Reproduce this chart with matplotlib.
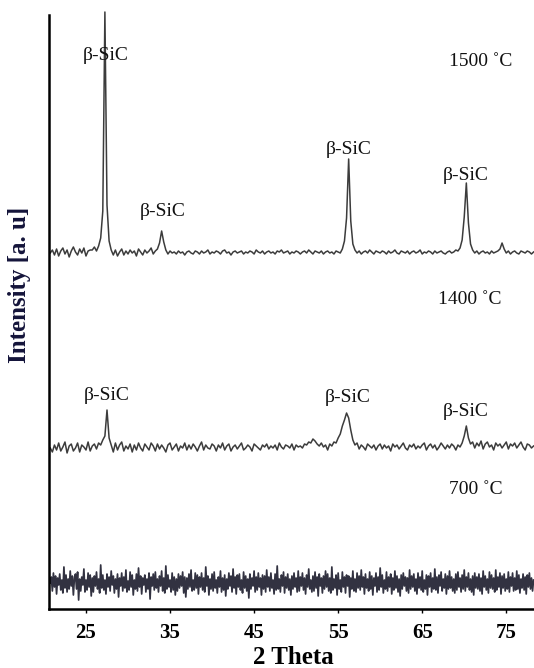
import numpy as np
import matplotlib
matplotlib.use("Agg")
import matplotlib.pyplot as plt

# 2-theta sampling grids (degrees)
two_theta = np.arange(20.75, 78.26, 0.25)
two_theta_fine = np.arange(20.75, 78.26, 0.125)

# intensities relative to each trace's baseline (a.u.)
i_1500 = [
    0, 3, -2, 4, -3, 2, 5, -1, 3, -4, 2, 6, 1, -2, 4, 0, 5, -3, 2, 3,
    3, 6, 2, 7, 15, 42, 241, 48, 12, 3, -2, 3, -3, 1, 4, -2, 2, -1, 3, 0,
    2, -3, 4, 1, -2, 3, 0, 2, 5, -1, 2, 4, 10, 22, 11, 3, -1, 2, 0, 1,
    -1, 2, 0, 1, -2, 1, 2, 0, -1, 2, 1, -1, 2, 0, 1, 3, -1, 1, 0, 2,
    1, -1, 2, 3, 0, 1, -2, 1, 2, 0, 1, 2, -1, 1, 0, 2, 1, -1, 3, 1,
    0, 2, -1, 1, 2, 0, 1, -1, 2, 1, 3, 0, 1, 2, -1, 1, 0, 2, 1, -1,
    1, 2, 0, 3, 1, -1, 2, 1, 0, 2, -1, 1, 2, 0, 1, -1, 2, 1, 0, 4,
    12, 35, 94, 32, 9, 3, 0, 2, -1, 1, 2, 0, 3, 1, -1, 2, 1, 0, 2, 1,
    -1, 2, 0, 1, 3, 0, -1, 2, 1, 0, 2, -1, 1, 2, 0, 1, 3, -1, 1, 0,
    2, 1, -1, 2, 0, 1, 2, 0, -1, 1, 2, 0, 1, 3, 2, 5, 13, 36, 70, 30,
    9, 3, 0, 2, -1, 1, 2, 0, 1, -1, 2, 0, 1, 2, 4, 10, 4, 0, 2, -1,
    1, 2, 0, -1, 2, 1, 0, 2, 1, -1, 1,
]
i_1400 = [
    0, -4, 3, -2, 5, -3, 1, 6, -5, 2, 4, -3, 0, 5, -4, 3, 1, -2, 6, -3,
    2, 4, -1, 5, 3, 8, 12, 38, 10, 3, -4, 5, -2, 3, 6, -3, 2, -1, 4, -4,
    3, -2, 5, 0, -3, 4, 1, -2, 5, 2, -3, 4, -1, 3, 0, -4, 3, 5, -2, 1,
    4, -3, 2, 0, 5, -2, 3, -1, 4, 1, -3, 2, 6, -2, 3, 0, -1, 4, 2, -3,
    3, 0, 5, -2, 2, 4, -3, 1, 3, -1, 2, 5, -2, 0, 3, 1, -3, 4, 2, 0,
    -2, 3, 1, 4, -1, 2, 0, 3, -2, 5, 1, -1, 3, 2, 0, 4, -2, 3, 1, 2,
    0, 4, 3, 6, 5, 9, 7, 4, 2, 5, 1, 3, -2, 4, 2, 6, 5, 10, 14, 22,
    28, 35, 30, 18, 8, 3, 5, -1, 3, 1, -2, 4, 2, 0, 3, -2, 2, 4, -1, 3,
    0, 2, -3, 4, 1, 3, -1, 2, 5, 0, -2, 3, 1, 4, -1, 2, 0, 3, 5, -2,
    2, 4, 0, 3, -2, 1, 5, 2, -1, 3, 0, 4, 2, -2, 3, 1, 5, 12, 22, 10,
    4, 6, 0, 5, 2, 7, -1, 4, 6, 1, 3, -2, 5, 2, 4, 0, 3, 6, -1, 4,
    2, 5, 0, 3, 6, 1, -2, 4, 3, 0, 2,
]
i_700 = [
    0, 6, -8, 10, -4, 7, -11, 5, -2, 9, -7, 3, -10, 16, -5, 8, -9, 4, -6, 12,
    -3, 7, -12, 5, 9, -6, 11, -17, 4, -8, 6, -2, 14, -9, 3, -7, 10, -4, 8, -13,
    5, -9, 7, -3, 11, -6, 4, -10, 18, -5, 8, -7, 3, -11, 9, -4, 6, -8, 12, -2,
    7, -10, 4, -6, 9, -14, 5, -3, 10, -8, 6, -5, 13, -9, 2, -7, 11, -4, 8, -12,
    3, -6, 9, -8, 15, -4, 7, -11, 5, -2, 8, -9, 4, -6, 10, -16, 6, -3, 9, -7,
    11, -5, 4, -9, 7, -3, 12, -8, 5, -10, 17, -6, 8, -4, 3, -9, 10, -7, 6, -12,
    4, -8, 9, -5, 7, -3, 11, -10, 6, -14, 5, -6, 9, -4, 13, -8, 3, -7, 10, -5,
    8, -11, 6, -4, 10, -7, 5, -9, 16, -3, 7, -12, 4, -6, 9, -8, 11, -5, 3, -10,
    6, -4, 12, -9, 5, -7, 8, -13, 4, -6, 10, -3, 7, -9, 14, -5, 6, -11, 8, -4,
    9, -7, 3, -10, 11, -5, 7, -8, 4, -15, 9, -6, 5, -3, 12, -9, 6, -7, 10, -4,
    5, -12, 8, -6, 7, -9, 13, -4, 6, -8, 10, -5, 3, -11, 9, -7, 17, -6, 4, -9,
    8, -3, 11, -10, 6, -5, 9, -7, 4, -12, 7, -6, 10, -4, 5, -9, 12, -8, 6, -3,
    10, -7, 5, -11, 8, -4, 14, -6, 3, -9, 7, -8, 11, -5, 6, -13, 9, -3, 5, -10,
    7, -6, 12, -4, 9, -8, 5, -10, 16, -7, 4, -5, 8, -12, 10, -6, 3, -9, 11, -4,
    6, -10, 8, -3, 7, -14, 5, -6, 12, -8, 4, -9, 10, -5, 7, -7, 13, -4, 6, -11,
    9, -5, 4, -8, 11, -6, 7, -12, 5, -3, 10, -9, 6, -7, 15, -4, 8, -10, 3, -6,
    11, -8, 6, -4, 9, -11, 5, -7, 12, -5, 7, -9, 4, -13, 8, -6, 10, -3, 6, -8,
    5, -10, 13, -6, 7, -4, 9, -8, 4, -11, 10, -5, 6, -7, 12, -9, 3, -6, 8, -12,
    7, -4, 10, -9, 5, -6, 14, -7, 6, -10, 8, -3, 11, -8, 4, -5, 9, -11, 7, -6,
    12, -5, 6, -8, 4, -10, 9, -7, 11, -4, 5, -9, 8, -6, 13, -8, 6, -4, 10, -7,
    4, -9, 7, -12, 10, -5, 6, -6, 9, -8, 5, -11, 12, -4, 7, -7, 4, -10, 11, -5,
    8, -6, 5, -9, 13, -7, 6, -4, 10, -11, 7, -5, 9, -8, 4, -6, 11, -9, 6, -3,
    10, -8, 5, -7, 12, -6, 8, -10, 4, -5, 9, -7, 6, -11, 8, -4, 10, -6, 5, -8,
    3,
]

temps = ["1500 \u02daC", "1400 \u02daC", "700 \u02daC"]
x_ticks = [25, 35, 45, 55, 65, 75]
peak_label = "\u03b2-SiC"

fig = plt.figure(figsize=(5.34, 6.68), dpi=100)
ax = fig.add_axes([49 / 534, 59 / 668, 485 / 534, 594 / 668])

offsets = [356, 161, 26]
ax.plot(two_theta, np.array(i_1500) + offsets[0], color="#3c3c3c", lw=1.1, clip_on=False)
ax.plot(two_theta, np.array(i_1400) + offsets[1], color="#3c3c3c", lw=1.1, clip_on=False)
ax.plot(two_theta_fine, np.array(i_700) + offsets[2], color="#1c1c2c", lw=1.25,
        alpha=0.9, clip_on=False)

ax.set_xlim(20.6, 78.3)
ax.set_ylim(0, 594)
ax.set_xticks(x_ticks)
ax.set_yticks([])
for s in ["top", "right"]:
    ax.spines[s].set_visible(False)
for s in ["left", "bottom"]:
    ax.spines[s].set_linewidth(1.8)
ax.tick_params(axis="x", length=3, width=1, direction="out", pad=7)
for lab in ax.get_xticklabels():
    lab.set_fontfamily("Liberation Serif")
    lab.set_fontweight("bold")
    lab.set_fontsize(15)

fig.text(293 / 534, 1 - 657 / 668, "2 Theta", fontfamily="Liberation Serif",
         fontweight="bold", fontsize=18, ha="center", va="center")
fig.text(20 / 534, 1 - 285 / 668, "Intensity [a. u]", fontfamily="Liberation Serif",
         fontweight="bold", fontsize=18, color="#14143a", rotation=90,
         ha="center", va="center")

tkw = dict(fontfamily="Liberation Serif", fontsize=14, ha="center", va="center",
           color="#111111")
lab_pos = [(27.3, 609 - 55), (34.1, 609 - 211), (56.3, 609 - 149), (70.2, 609 - 175),
           (27.5, 609 - 396), (56.1, 609 - 398), (70.2, 609 - 412)]
for x, y in lab_pos:
    ax.text(x, y, peak_label, **tkw)

ax.text(71.9, 609 - 61, temps[0], **tkw)
ax.text(70.6, 609 - 300, temps[1], **tkw)
ax.text(71.4, 609 - 489, temps[2], **tkw)

fig.savefig("out.png", dpi=100)
